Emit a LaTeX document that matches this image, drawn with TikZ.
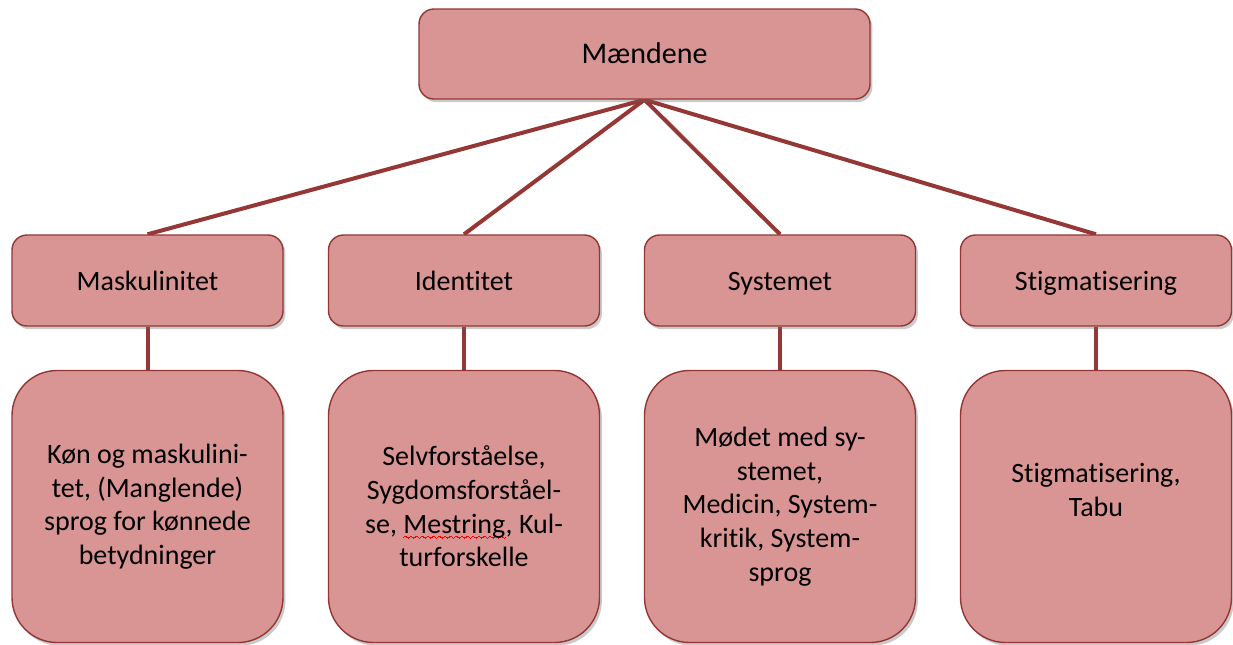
\documentclass[tikz,border=0pt]{standalone}
\usepackage{fontspec}
\setmainfont[Ligatures=NoCommon]{Carlito}
\usetikzlibrary{shadows,backgrounds}
\definecolor{boxfill}{HTML}{D99594}
\definecolor{boxline}{HTML}{943634}
\definecolor{linkcol}{HTML}{953735}
\newsavebox\wavebox
\newcommand\wavebit[1]{\rule[#1]{0.35pt}{0.45pt}}
\newcommand\waveunit{\hbox{\wavebit{-2.2pt}\wavebit{-1.95pt}\wavebit{-1.75pt}\wavebit{-1.95pt}\wavebit{-2.2pt}\wavebit{-2.45pt}\wavebit{-2.65pt}\wavebit{-2.45pt}}}
\newcommand\spellwave[1]{\sbox\wavebox{#1}\rlap{\color{red}\hbox to \wd\wavebox{\xleaders\waveunit\hfill}}#1}
\tikzset{
  basebox/.style={draw=boxline, line width=0.7pt, fill=boxfill,
    inner sep=0pt,
    drop shadow={opacity=0.35, shadow xshift=1.2pt, shadow yshift=-1.6pt, fill=black!60}},
  topbox/.style={basebox, rounded corners=7.5pt, minimum width=225.5pt, minimum height=45pt,
    font=\fontsize{15pt}{18pt}\selectfont, text height=12pt, text depth=3pt},
  midbox/.style={basebox, rounded corners=7.5pt, minimum width=135.5pt, minimum height=45.5pt,
    font=\fontsize{14pt}{17pt}\selectfont, text height=12pt, text depth=2.5pt},
  botbox/.style={basebox, rounded corners=22.5pt, minimum width=135.5pt, minimum height=136pt,
    align=center, font=\fontsize{14pt}{16.8pt}\selectfont},
  link/.style={draw=linkcol, line width=2pt}
}
\begin{document}
\begin{tikzpicture}[x=0.5pt,y=-0.5pt]
\useasboundingbox (0,0) rectangle (1233,644);
\node[topbox] (top) at (644.5,54) {Mændene};
\node[midbox] (m1) at (147.5,280.5) {Maskulinitet};
\node[midbox] (m2) at (464,280.5) {Identitet};
\node[midbox] (m3) at (780,280.5) {Systemet};
\node[midbox] (m4) at (1096,280.5) {Stigmatisering};
\node[botbox] (b1) at (147.5,506.5) {Køn og maskulini-\\tet, (Manglende)\\sprog for kønnede\\betydninger};
\node[botbox] (b2) at (464,506.5) {Selvforståelse,\\Sygdomsforståel-\\se, \spellwave{Mestring}, Kul-\\turforskelle};
\node[botbox] (b3) at (780,506.5) {Mødet med sy-\\stemet,\\Medicin, System-\\kritik, System-\\sprog};
\node[botbox] (b4) at (1096,506.5) {Stigmatisering,\\Tabu\\\mbox{}};
\begin{scope}[on background layer]
\foreach \m in {m1,m2,m3,m4}{\draw[link] (top.south) -- (\m.north);}
\draw[link] (m1.south) -- (b1.north);
\draw[link] (m2.south) -- (b2.north);
\draw[link] (m3.south) -- (b3.north);
\draw[link] (m4.south) -- (b4.north);
\end{scope}
\end{tikzpicture}
\end{document}
